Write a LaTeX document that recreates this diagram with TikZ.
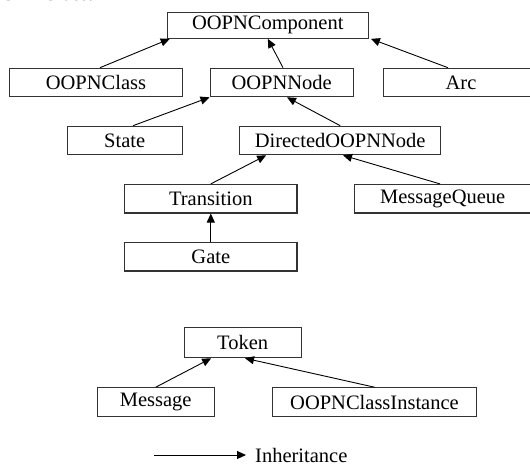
\documentclass[tikz,border=0pt]{standalone}
\usepackage{fontspec}
\setmainfont{Liberation Serif}
\usetikzlibrary{arrows.meta}
\begin{document}
\begin{tikzpicture}[x=1pt,y=-1pt,
  cls/.style={draw=black!80,line width=1.1pt,fill=white,inner sep=0pt,
    minimum height=28.5pt,font=\fontsize{20.5}{24}\selectfont,text=black},
  inh/.style={-{Triangle[length=9pt,width=8pt]},line width=0.9pt,black}]
\useasboundingbox (0,0) rectangle (530,471);
\node[anchor=base east,font=\bfseries\fontsize{20}{24}\selectfont] (cap) at (97,0.5) {OOPNClass.};
\node[cls,minimum width=201pt,minimum height=26pt] (comp) at (267.8,25.3) {OOPNComponent};
\node[cls,minimum width=173.4pt] (oclass) at (96,82.5) {OOPNClass};
\node[cls,minimum width=143.3pt] (onode) at (281.7,82.5) {OOPNNode};
\node[cls,minimum width=155.4pt] (arc) at (461,82.5) {Arc};
\node[cls,minimum width=114.7pt] (state) at (124.7,140.5) {State};
\node[cls,minimum width=201pt] (dnode) at (340.2,140.5) {DirectedOOPNNode};
\node[cls,minimum width=172.3pt] (trans) at (210.8,198.7) {Transition};
\node[cls,minimum width=177pt] (mq) at (442.7,198.7) {MessageQueue};
\node[cls,minimum width=172.3pt] (gate) at (210.8,256.7) {Gate};
\node[cls,minimum width=116.7pt,minimum height=30pt] (token) at (242.7,342.7) {Token};
\node[cls,minimum width=116.7pt,minimum height=28.5pt] (msg) at (155.7,402) {Message};
\node[cls,minimum width=204.4pt,minimum height=28.5pt] (oci) at (374.5,402) {OOPNClassInstance};
\coordinate (l1) at (154.3,455);
\node[anchor=west,inner sep=0pt,font=\fontsize{20.5}{24}\selectfont] (leg) at (255,455) {Inheritance};
\draw[inh] ([xshift=4pt]oclass.north) -- ([xshift=3pt]comp.south west);
\draw[inh] ([xshift=1.3pt]onode.north) -- (comp.south);
\draw[inh] ([xshift=-13pt]arc.north) -- ([xshift=2pt]comp.south east);
\draw[inh] ([xshift=8.3pt]state.north) -- (onode.south west);
\draw[inh] (dnode.north) -- ([xshift=5.3pt]onode.south);
\draw[inh] (trans.north) -- ([xshift=27pt]dnode.south west);
\draw[inh] ([xshift=-2.7pt]mq.north) -- ([xshift=2.8pt]dnode.south);
\draw[inh] (gate.north) -- (trans.south);
\draw[inh] (msg.north) -- ([xshift=27.4pt]token.south west);
\draw[inh] (oci.north) -- ([xshift=2.3pt]token.south);
\draw[inh] (l1) -- ([xshift=-9pt]leg.west);
\end{tikzpicture}
\end{document}
